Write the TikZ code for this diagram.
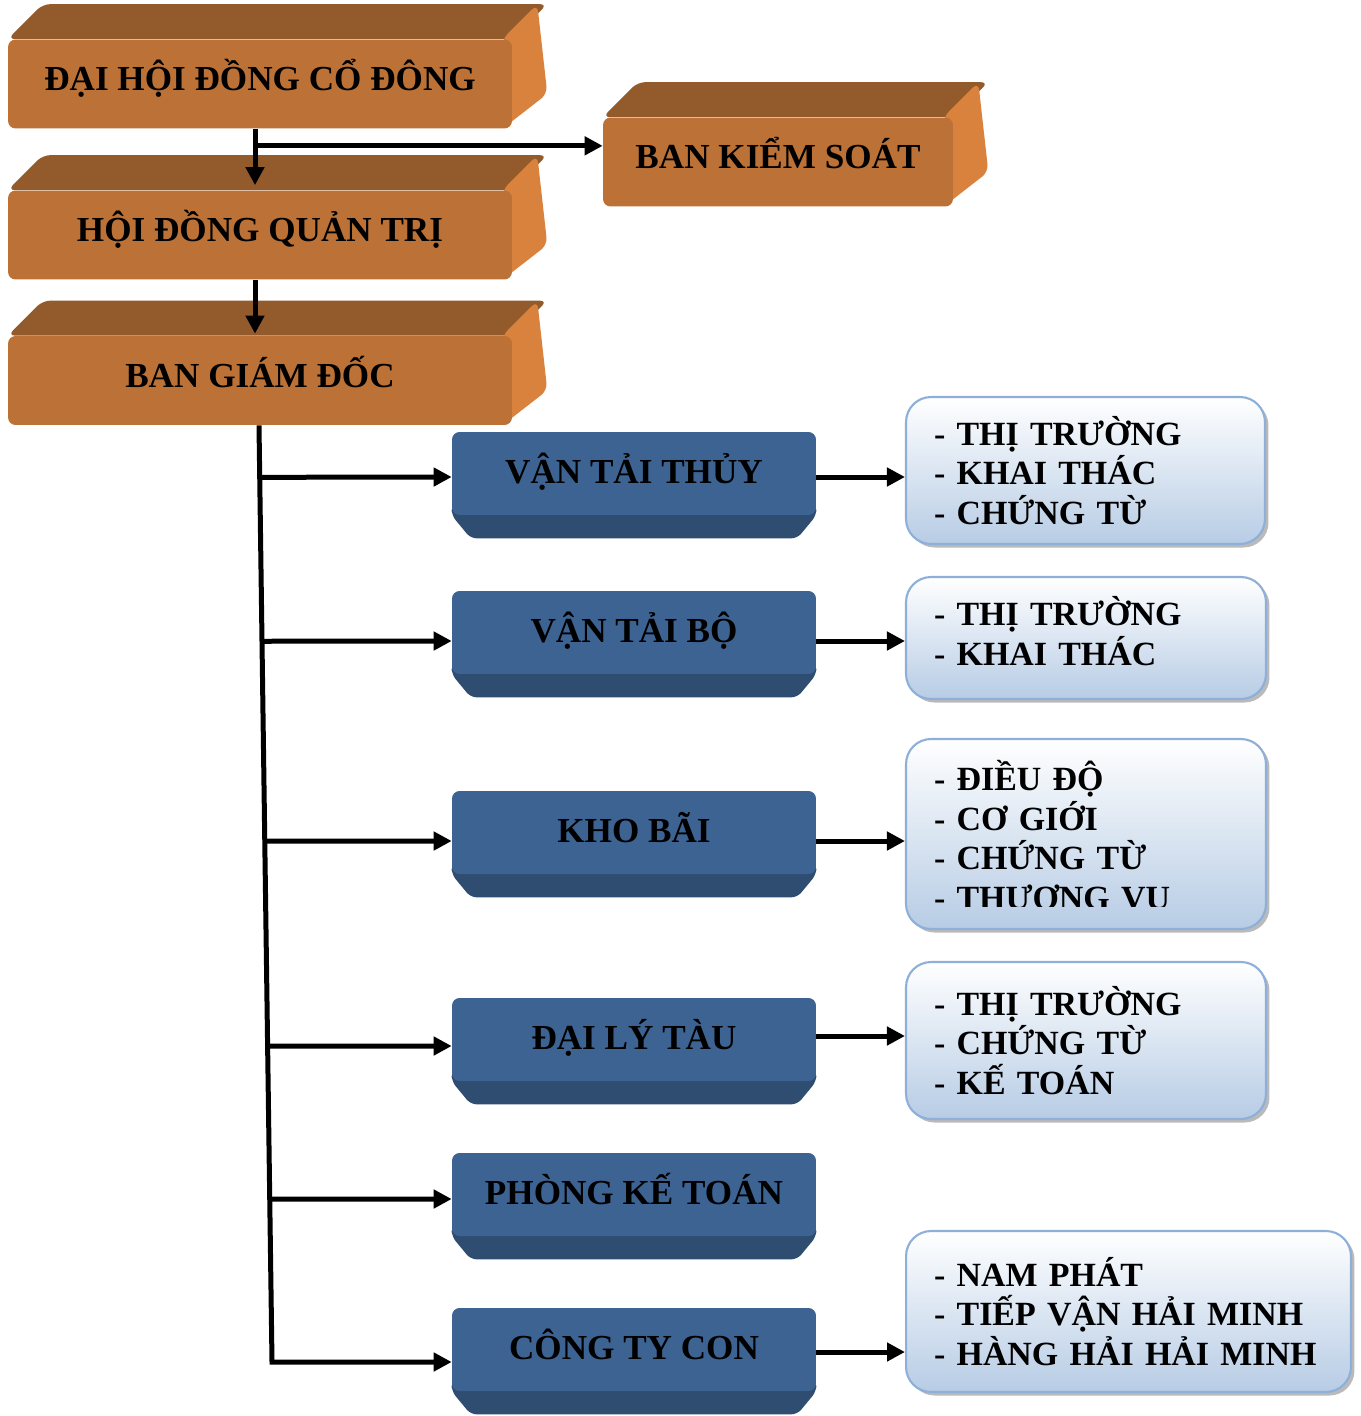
\documentclass[tikz,border=0pt]{standalone}
\usepackage{fontspec}
\setmainfont{Liberation Serif}
\usetikzlibrary{arrows.meta,calc,backgrounds,shadows}
\definecolor{orgfront}{RGB}{188,114,54}
\definecolor{orgtop}{RGB}{147,90,43}
\definecolor{orgside}{RGB}{217,130,62}
\definecolor{bluefront}{RGB}{61,99,147}
\definecolor{bluebottom}{RGB}{47,77,113}
\definecolor{infoblue}{RGB}{183,204,229}
\definecolor{infoline}{RGB}{142,175,216}

\begin{document}
\begin{tikzpicture}[x=0.02cm, y=-0.02cm, font=\bfseries\fontsize{20}{22.5}\selectfont]
        \tikzstyle{org}=[rectangle, fill=orgfront, rounded corners=0.15cm, minimum width=10.08cm, minimum height=1.78cm, text depth=0.35cm]
        \tikzstyle{unit}=[rectangle, fill=bluefront, rounded corners=0.15cm, minimum width=7.28cm, minimum height=1.66cm, text depth=0.22cm]
        \tikzstyle{info}=[rectangle, rounded corners=0.5cm, draw=infoline, line width=1.2pt, top color=white, bottom color=infoblue, drop shadow={shadow xshift=2pt, shadow yshift=-2pt, fill=black!45, opacity=0.6}, align=left, inner xsep=0.56cm, font=\bfseries\fontsize{19.3}{22.5}\selectfont]
        \tikzstyle{infotext}=[align=left, inner xsep=0.56cm, font=\bfseries\fontsize{19.3}{22.5}\selectfont]
        \tikzstyle{arr}=[line width=0.1cm, -{Triangle[length=0.36cm, width=0.36cm]}]
        \useasboundingbox (0,0) rectangle (1360,1416);
        \begin{scope}
          \node [org] (c0) at (260,84) {ĐẠI HỘI ĐỒNG CỔ ĐÔNG};
          \node [org] (c1) at (260,235) {HỘI ĐỒNG QUẢN TRỊ};
          \node [org] (c2) at (260,380.5) {BAN GIÁM ĐỐC};
          \node [org, minimum width=7cm] (k) at (778,162) {BAN KIỂM SOÁT};
          \node [unit] (b1) at (634,473.5) {VẬN TẢI THỦY};
          \node [unit] (b2) at (634,632.5) {VẬN TẢI BỘ};
          \node [unit] (b3) at (634,832.5) {KHO BÃI};
          \node [unit] (b4) at (634,1039.5) {ĐẠI LÝ TÀU};
          \node [unit] (b5) at (634,1194.5) {PHÒNG KẾ TOÁN};
          \node [unit] (b6) at (634,1349.5) {CÔNG TY CON};
          \node [info, minimum height=2.94cm, text width=6.06cm] (l1) at (1085.5,470.5) {- THỊ TRƯỜNG\\- KHAI THÁC\\- CHỨNG TỪ};
          \node [info, minimum height=2.44cm, minimum width=7.2cm] (l2) at (1086,638) {};
          \node [infotext, text width=6.08cm] (l2t) at (1086,631) {- THỊ TRƯỜNG\\- KHAI THÁC};
          \node [info, minimum height=3.8cm, minimum width=7.2cm] (l3) at (1086,834) {};
          \node [info, minimum height=3.14cm, text width=6.08cm] (l4) at (1086,1040.5) {- THỊ TRƯỜNG\\- CHỨNG TỪ\\- KẾ TOÁN};
          \node [info, minimum height=3.22cm, text width=7.78cm] (l5) at (1128.5,1311.5) {- NAM PHÁT\\- TIẾP VẬN HẢI MINH\\- HÀNG HẢI HẢI MINH};
        \end{scope}
        % text of the third list is cut at the bottom
        \begin{scope}
          \clip (900,740) rectangle (1270,906);
          \node [infotext, text width=6.08cm] (l3t) at (1086,838) {- ĐIỀU ĐỘ\\- CƠ GIỚI\\- CHỨNG TỪ\\- THƯƠNG VỤ};
        \end{scope}
        \begin{pgfonlayer}{background}
          \foreach \n in {c0,c1,c2,k} {
            \fill [orgtop, rounded corners=0.15cm] (\n.north west) -- ++(35,-35) -- ($(\n.north east)+(35,-35)$) -- (\n.north east) -- cycle;
            \fill [orgside, rounded corners=0.15cm] ([xshift=-0.2cm]\n.north east) -- ++(35,-35) -- ($(\n.south east)+(35,-35)$) -- ([xshift=-0.2cm]\n.south east) -- cycle;
          }
          \foreach \n in {b1,b2,b3,b4,b5,b6}
            \fill [bluebottom, rounded corners=0.12cm] ([yshift=0.2cm]\n.south west) -- ([yshift=0.2cm]\n.south east) -- (\n.south east) -- ++(-19,23) -- ($(\n.south west)+(19,23)$) -- (\n.south west) -- cycle;
        \end{pgfonlayer}
        % arrows
        \coordinate (j0) at ($(c0.south)+(-5,17)$);
        \draw [arr] ([xshift=-0.1cm]c0.south) -- ([xshift=-0.1cm, yshift=0.1cm]c1.north);
        \draw [arr] (j0) -- (j0 -| k.west);
        \draw [arr] ([xshift=-0.1cm]c1.south) -- ([xshift=-0.1cm, yshift=0.04cm]c2.north);
        \coordinate (t0) at ($(c2.south)+(-1,0)$);
        \coordinate (t1) at (272,1362);
        \draw [arr] (t0) -- (t1) -- (t1 -| b6.west);
        \foreach \n/\y in {b1/477,b2/641,b3/841,b4/1046,b5/1199} {
          \pgfmathsetmacro{\f}{(\y-425)/937}
          \draw [arr] ($(t0)!\f!(t1)$) -- (\n.west |- 0,\y);
        }
        \foreach \n/\m/\y in {b1/l1/477,b2/l2/641,b3/l3/841,b4/l4/1036,b6/l5/1352}
          \draw [arr] (\n.east |- 0,\y) -- (\m.west |- 0,\y);
      \end{tikzpicture}
\end{document}
